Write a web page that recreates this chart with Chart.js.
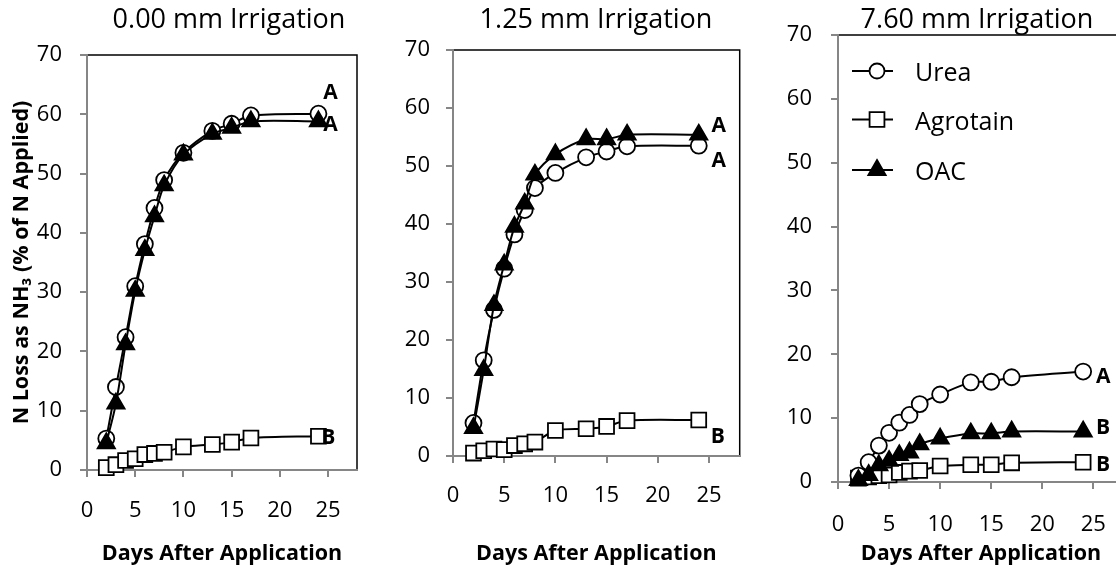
<!DOCTYPE html>
<html lang="en">
<head>
    <meta charset="UTF-8">
    <title>N Loss as NH3</title>
    <script src="https://cdn.jsdelivr.net/npm/chart.js"></script>
    <style>
        html, body { margin: 0; padding: 0; background: #fff; overflow: hidden; }
        body { width: 1116px; height: 571px; position: relative; }
        canvas { position: absolute; top: 0; }
    </style>
</head>
<body>
    <canvas id="p1" width="372" height="571" style="left:0px"></canvas>
    <canvas id="p2" width="372" height="571" style="left:380px"></canvas>
    <canvas id="p3" width="380" height="571" style="left:760px"></canvas>
    <script>
        // days after application
        const days = [2, 3, 4, 5, 6, 7, 8, 10, 13, 15, 17, 24];
        const seriesNames = ['Urea', 'Agrotain', 'OAC'];
        const titles = ['0.00 mm Irrigation', '1.25 mm Irrigation', '7.60 mm Irrigation'];

        // 0.00 mm
        const urea0 = [5.3, 14.0, 22.4, 31.0, 38.1, 44.2, 48.9, 53.5, 57.2, 58.4, 59.8, 60.1];
        const agro0 = [0.4, 0.9, 1.6, 1.9, 2.6, 2.8, 3.0, 3.9, 4.3, 4.7, 5.4, 5.7];
        const oac0 = [4.5, 11.2, 21.2, 30.2, 37.1, 42.8, 48.0, 53.2, 56.7, 57.7, 58.8, 58.8];
        // 1.25 mm
        const urea125 = [5.7, 16.5, 25.2, 32.3, 38.2, 42.4, 46.2, 48.8, 51.5, 52.5, 53.4, 53.5];
        const agro125 = [0.5, 0.9, 1.2, 1.1, 1.8, 2.1, 2.4, 4.4, 4.7, 5.1, 6.1, 6.2];
        const oac125 = [4.8, 14.8, 26.0, 33.0, 39.5, 43.5, 48.5, 52.0, 54.6, 54.6, 55.4, 55.4];
        // 7.60 mm
        const urea760 = [1.0, 3.1, 5.7, 7.7, 9.3, 10.5, 12.2, 13.7, 15.6, 15.7, 16.4, 17.3];
        const agro760 = [0.6, 0.8, 1.0, 1.1, 1.5, 1.7, 1.8, 2.5, 2.7, 2.7, 3.0, 3.1];
        const oac760 = [0.3, 1.1, 2.6, 3.3, 4.2, 4.6, 5.9, 6.8, 7.6, 7.6, 7.9, 7.9];

        // significance letters (Urea, Agrotain, OAC)
        const letters0 = ['A', 'B', 'A'];
        const letters125 = ['A', 'B', 'A'];
        const letters760 = ['A', 'B', 'B'];

        const yTicks = { min: 0, max: 70, step: 10 };
        const xTicks = { min: 0, max: 28, step: 5 };

        const FONT = 'Open Sans';
        const AXIS_GRAY = '#868686';

        // draws the black plot frame, panel title, letters and legend
        const decor = {
            id: 'decor',
            beforeDraw(chart, args, opts) {
                const { ctx, chartArea: a } = chart;
                ctx.save();
                ctx.strokeStyle = '#000';
                ctx.lineWidth = 1.5;
                ctx.strokeRect(a.left, a.top, a.right - a.left, a.bottom - a.top);
                ctx.restore();
            },
            afterDraw(chart, args, opts) {
                const { ctx, chartArea: a } = chart;
                ctx.save();
                ctx.fillStyle = '#000';
                ctx.textAlign = 'center';
                ctx.textBaseline = 'middle';
                ctx.font = '27px "' + FONT + '"';
                ctx.fillText(opts.title, opts.titleX, opts.titleY);

                ctx.font = 'bold 21px "' + FONT + '"';
                chart.data.datasets.forEach((ds, i) => {
                    const pts = chart.getDatasetMeta(i).data;
                    const last = pts[pts.length - 1];
                    const off = opts.letterOffsets[i];
                    ctx.fillText(opts.letters[i], last.x + off[0], last.y + off[1]);
                });

                if (opts.legend) {
                    const rows = [36, 84.5, 135];
                    ctx.font = '25px "' + FONT + '"';
                    ctx.textAlign = 'left';
                    chart.data.datasets.forEach((ds, i) => {
                        const y = a.top + rows[i];
                        ctx.strokeStyle = '#000';
                        ctx.lineWidth = 2;
                        ctx.beginPath();
                        ctx.moveTo(a.left + 14, y);
                        ctx.lineTo(a.left + 55, y);
                        ctx.stroke();
                        ctx.fillStyle = ds.pointBackgroundColor;
                        ctx.strokeStyle = '#000';
                        ctx.lineWidth = 1.8;
                        Chart.helpers.drawPoint(ctx, {
                            pointStyle: ds.pointStyle,
                            radius: ds.pointStyle === 'circle' ? 7.5 : ds.pointRadius,
                            rotation: 0,
                            borderWidth: 1.8
                        }, a.left + 39, y);
                        ctx.fillStyle = '#000';
                        ctx.fillText(ds.label, a.left + 77, y + 3);
                    });
                }
                ctx.restore();
            }
        };

        function makeDatasets(u, g, o) {
            const pts = arr => days.map((d, i) => ({ x: d, y: arr[i] }));
            const base = {
                borderColor: '#000',
                borderWidth: 2,
                pointBorderColor: '#000',
                pointBorderWidth: 1.8,
                tension: 0.3,
                clip: false
            };
            return [
                Object.assign({}, base, { label: seriesNames[0], data: pts(u), pointStyle: 'circle', pointRadius: 8, pointBackgroundColor: '#fff', backgroundColor: '#fff', order: 1 }),
                Object.assign({}, base, { label: seriesNames[1], data: pts(g), pointStyle: 'rect', pointRadius: 10.5, pointBackgroundColor: '#fff', backgroundColor: '#fff', order: 2 }),
                Object.assign({}, base, { label: seriesNames[2], data: pts(o), pointStyle: 'triangle', pointRadius: 10, pointBackgroundColor: '#000', backgroundColor: '#000', order: 0 })
            ];
        }

        function makeChart(id, title, u, g, o, letters, L) {
            new Chart(document.getElementById(id), {
                type: 'line',
                data: { datasets: makeDatasets(u, g, o) },
                options: {
                    responsive: false,
                    animation: false,
                    events: [],
                    layout: { padding: { left: 0, top: L.top, right: L.right, bottom: 0 } },
                    plugins: {
                        legend: { display: false },
                        tooltip: { enabled: false },
                        decor: {
                            title: title, titleX: L.titleX, titleY: 20,
                            letters: letters, letterOffsets: L.letterOffsets,
                            legend: L.legend
                        }
                    },
                    scales: {
                        x: {
                            type: 'linear',
                            min: xTicks.min, max: xTicks.max,
                            ticks: { stepSize: xTicks.step, includeBounds: false, maxRotation: 0, color: '#000', font: { family: FONT, size: 22 }, padding: L.padX },
                            grid: { drawOnChartArea: false, drawTicks: true, tickLength: 7, color: AXIS_GRAY, lineWidth: 2 },
                            border: { color: AXIS_GRAY, width: 2 },
                            title: { display: true, text: 'Days After Application', color: '#000', font: { family: FONT, size: 21.5, weight: 'bold' }, padding: { top: 5, bottom: 4 } },
                            afterFit(s) { s.height = L.xHeight; }
                        },
                        y: {
                            min: yTicks.min, max: yTicks.max,
                            ticks: { stepSize: yTicks.step, color: '#000', font: { family: FONT, size: 22 }, padding: L.padY },
                            grid: { drawOnChartArea: false, drawTicks: true, tickLength: 7, color: AXIS_GRAY, lineWidth: 2 },
                            border: { color: AXIS_GRAY, width: 2 },
                            title: { display: L.yTitle, text: 'N Loss as NH\u2083 (% of N Applied)', color: '#000', font: { family: FONT, size: 21.5, weight: 'bold' }, padding: { top: 9, bottom: 0 } },
                            afterFit(s) { s.width = L.yWidth; }
                        }
                    }
                },
                plugins: [decor]
            });
        }

        makeChart('p1', titles[0], urea0, agro0, oac0, letters0, {
            top: 55, right: 15, yWidth: 87, xHeight: 101, padX: 21, padY: 18,
            titleX: 229, yTitle: true, legend: false,
            letterOffsets: [[12, -21], [10, 2], [12, 4]]
        });
        makeChart('p2', titles[1], urea125, agro125, oac125, letters125, {
            top: 50, right: 11, yWidth: 73, xHeight: 115, padX: 20, padY: 16,
            titleX: 216, yTitle: false, legend: false,
            letterOffsets: [[20, 15], [19, 17], [20, -9]]
        });
        makeChart('p3', titles[2], urea760, agro760, oac760, letters760, {
            top: 35, right: 16, yWidth: 78, xHeight: 89, padX: 23, padY: 19,
            titleX: 217, yTitle: false, legend: true,
            letterOffsets: [[20, 5], [20, 3], [20, -4]]
        });
    </script>
</body>
</html>
